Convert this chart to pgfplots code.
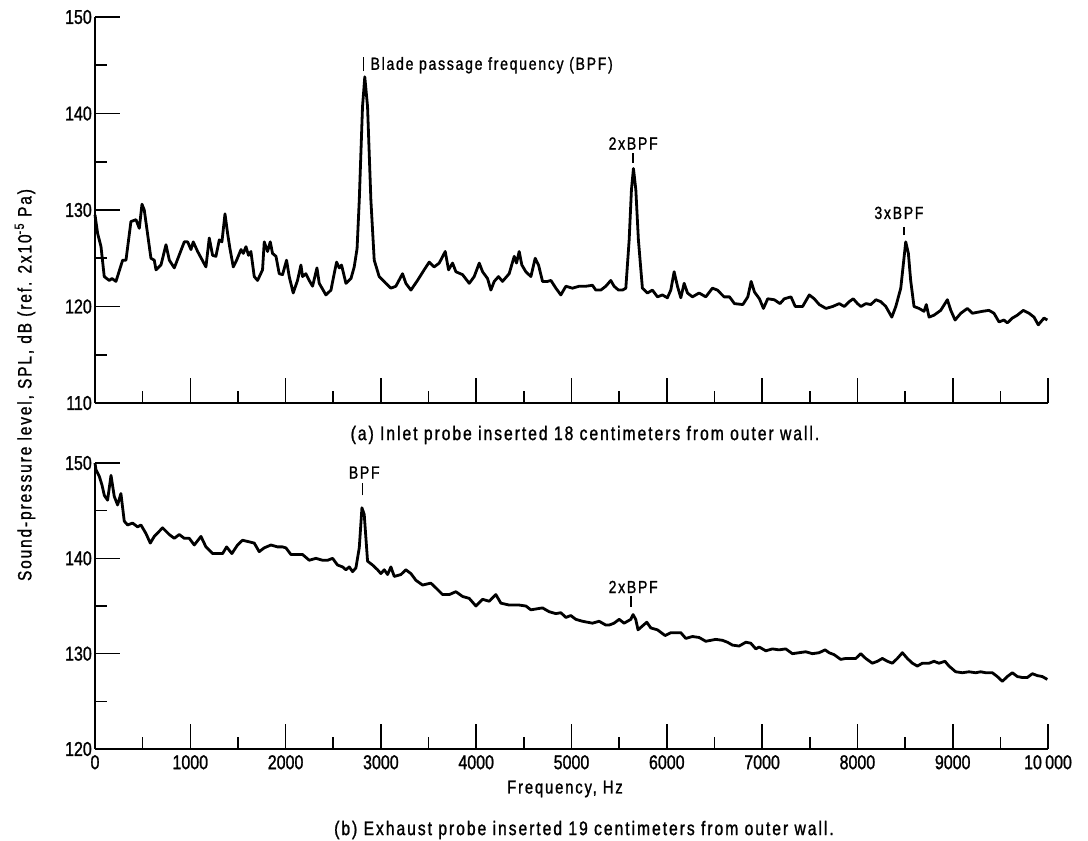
\documentclass[border=0pt]{standalone}
\usepackage{fontspec}
\setmainfont{Liberation Sans}[FakeStretch=0.8,FakeBold=1.2]
\newfontfamily\capfont{Liberation Sans}[FakeStretch=0.8,LetterSpace=10,FakeBold=1.2]
\usepackage{pgfplots}
\pgfplotsset{compat=1.18}

\pgfplotstableread{
f db
0 129.5
27 127.6
63 126.2
97 123.1
150 122.7
178 122.9
220 122.6
290 124.8
325 124.8
377 128.8
430 129.0
465 128.1
493 130.6
517 130.0
587 125.0
622 124.8
640 123.8
692 124.3
745 126.4
780 124.8
832 124.0
937 126.7
972 126.7
1007 125.9
1031 126.7
1077 125.7
1164 124.1
1199 127.1
1234 125.3
1269 125.2
1304 126.9
1332 126.7
1364 129.6
1391 127.6
1416 126.0
1451 124.1
1486 124.8
1532 125.9
1556 125.5
1584 126.2
1611 125.3
1636 125.7
1671 123.1
1706 122.7
1758 123.8
1776 126.7
1811 125.7
1839 126.7
1863 125.5
1899 125.2
1933 123.4
1968 123.3
2010 124.8
2038 123.1
2080 121.4
2125 122.7
2161 124.3
2178 123.1
2213 123.4
2248 122.7
2283 122.1
2329 124.0
2353 122.4
2423 121.2
2476 121.7
2510 123.4
2535 124.6
2563 124.0
2587 124.3
2633 122.4
2686 122.9
2720 124.1
2750 126.0
2773 131.0
2807 140.7
2831 143.8
2860 140.7
2895 131.0
2930 124.8
2982 123.1
3052 122.4
3105 121.9
3157 122.1
3227 123.4
3262 122.4
3315 121.7
3384 122.7
3454 123.8
3507 124.6
3559 124.1
3612 124.5
3675 125.7
3710 123.8
3752 124.5
3787 123.6
3857 123.3
3927 122.4
3979 123.1
4032 124.5
4067 123.6
4119 122.9
4154 121.7
4189 122.6
4234 123.1
4276 122.6
4346 123.4
4399 125.2
4423 124.5
4451 125.7
4479 124.3
4521 123.6
4574 123.1
4619 125.0
4654 124.3
4696 122.6
4748 122.6
4784 122.7
4836 121.9
4888 121.2
4941 122.1
5010 121.9
5080 122.1
5150 122.1
5220 122.2
5255 121.7
5307 121.7
5360 122.1
5412 122.7
5447 122.1
5493 121.7
5535 121.7
5570 121.9
5605 126.9
5629 132.1
5650 134.3
5675 132.1
5702 126.9
5744 121.9
5797 121.4
5849 121.7
5902 121.0
5954 121.2
6006 120.9
6042 121.7
6077 123.6
6112 122.1
6147 120.9
6182 122.4
6217 121.4
6269 121.0
6339 121.4
6409 121.0
6479 121.9
6531 121.7
6601 121.0
6658 121.0
6710 120.3
6798 120.2
6850 121.0
6885 122.6
6920 121.5
6972 120.8
7014 119.8
7059 120.8
7128 120.7
7188 120.3
7233 120.8
7303 121.0
7348 120.0
7425 120.0
7495 121.2
7547 120.8
7600 120.2
7670 119.8
7740 120.0
7810 120.3
7862 120.0
7914 120.5
7956 120.8
8001 120.3
8037 120.0
8089 120.3
8141 120.2
8194 120.7
8246 120.5
8298 120.0
8361 118.9
8403 120.0
8455 121.9
8479 124.1
8507 126.7
8535 125.5
8559 122.7
8594 120.0
8647 119.8
8699 119.5
8723 120.2
8752 118.9
8804 119.1
8874 119.6
8944 120.7
8980 119.6
9025 118.6
9085 119.3
9154 119.8
9207 119.3
9311 119.5
9381 119.6
9433 119.3
9486 118.4
9538 118.6
9573 118.3
9626 118.8
9678 119.1
9741 119.6
9801 119.3
9853 118.9
9898 118.1
9958 118.8
9993 118.6
}\inlet

\pgfplotstableread{
f db
0 150.0
10 149.3
45 148.6
73 147.7
98 146.6
132 146.1
168 148.7
202 146.5
237 145.6
272 146.8
307 143.9
342 143.5
394 143.7
447 143.3
482 143.5
535 142.6
580 141.6
622 142.3
709 143.2
779 142.5
832 142.1
884 142.5
937 142.1
989 142.1
1042 141.4
1112 142.3
1164 141.2
1234 140.5
1339 140.5
1381 141.2
1436 140.5
1496 141.4
1548 141.9
1671 141.6
1723 140.7
1776 141.1
1846 141.4
1916 141.2
1968 141.2
2003 141.1
2056 140.4
2125 140.4
2178 140.4
2248 139.8
2318 140.0
2388 139.8
2441 139.8
2493 140.0
2545 139.3
2598 139.1
2633 138.8
2668 139.1
2703 138.6
2738 139.0
2773 141.1
2801 145.3
2825 144.6
2860 139.7
2912 139.3
2965 138.8
3000 138.4
3035 138.8
3070 138.3
3105 139.1
3140 138.1
3210 138.3
3262 138.8
3315 138.4
3367 137.7
3437 137.2
3524 137.4
3577 136.9
3647 136.2
3717 136.2
3787 136.5
3857 136.0
3927 135.8
3997 135.0
4067 135.7
4137 135.5
4206 136.2
4259 135.3
4346 135.1
4451 135.1
4521 135.0
4574 134.6
4696 134.8
4766 134.4
4836 134.2
4888 134.3
4941 133.8
4993 134.0
5045 133.6
5115 133.4
5167 133.3
5220 133.2
5290 133.4
5360 133.0
5395 133.0
5447 133.2
5500 133.6
5552 133.2
5587 133.4
5622 133.6
5646 134.1
5674 133.6
5698 132.5
5744 132.9
5790 133.3
5832 132.7
5902 132.5
5982 131.9
6042 132.2
6094 132.2
6147 132.2
6199 131.6
6269 131.8
6339 131.7
6409 131.3
6514 131.5
6584 131.4
6636 131.2
6689 130.9
6759 130.8
6829 131.2
6881 131.1
6934 130.5
6969 130.7
7039 130.3
7108 130.5
7178 130.4
7248 130.5
7318 130.0
7388 130.1
7458 130.2
7528 130.0
7598 130.1
7661 130.4
7703 130.1
7755 129.9
7825 129.4
7878 129.5
7930 129.5
7983 129.5
8035 130.0
8087 129.5
8157 129.0
8210 129.2
8262 129.5
8315 129.2
8367 129.0
8419 129.5
8472 130.1
8524 129.5
8577 129.0
8629 128.7
8682 129.0
8752 129.0
8804 129.2
8856 129.0
8919 129.2
8961 128.7
9031 128.1
9101 128.0
9171 128.1
9241 128.0
9294 128.1
9346 128.0
9416 128.0
9468 127.6
9521 127.1
9573 127.6
9626 128.0
9678 127.6
9731 127.5
9783 127.5
9836 127.9
9888 127.7
9940 127.6
9993 127.3
}\exhaust

\pgfplotsset{
  panel/.style={
    scale only axis, width=953pt, xmin=0, xmax=10000,
    enlargelimits=false, scaled x ticks=false, scaled y ticks=false,
    axis lines=left, axis line style={-, line width=1.8pt},
    tick align=inside, major tick length=25pt, minor tick length=12.5pt,
    major tick style={black, line width=1.6pt},
    minor tick style={black, line width=1.6pt},
    xtick={0,1000,...,10000}, minor xtick={500,1500,...,9500},
    tick label style={font=\fontsize{20}{22}\selectfont},
    yticklabel style={inner sep=0pt, xshift=-3pt},
    xticklabel style={inner sep=0pt, yshift=-6pt},
    clip=false,
  },
  curve/.style={black, line width=2.8pt, line join=round, no markers},
}
\newcommand{\annfont}{\capfont\fontsize{17.5}{20}\selectfont}

\begin{document}
\begin{tikzpicture}[x=1pt,y=1pt]
\useasboundingbox (0,0) rectangle (1088,-841);

\begin{axis}[panel, at={(95pt,-17pt)}, anchor=north west, height=386pt,
  ymin=110, ymax=150, ytick={110,120,...,150}, minor ytick={115,125,...,145},
  yticklabels={110,120,130,140,150}, xticklabel=\empty]
\addplot[curve] table[x=f,y=db] {\inlet};
\draw[line width=1.4pt] (axis cs:2815,144.4) -- (axis cs:2815,145.9);
\node[anchor=west, font=\annfont, inner sep=0pt] at (axis cs:2890,145.0) {Blade passage frequency (BPF)};
\node[font=\annfont] at (axis cs:5647,136.9) {2xBPF};
\draw[line width=1.4pt] (axis cs:5647,134.9) -- (axis cs:5647,135.9);
\node[font=\annfont] at (axis cs:8436,129.7) {3xBPF};
\draw[line width=1.4pt] (axis cs:8490,127.4) -- (axis cs:8490,128.2);
\end{axis}

\begin{axis}[panel, at={(95pt,-463pt)}, anchor=north west, height=286pt,
  ymin=120, ymax=150, ytick={120,130,140,150}, minor ytick={125,135,145},
  yticklabels={120,130,140,150},
  xticklabels={0,1000,2000,3000,4000,5000,6000,7000,8000,9000,10\,000}]
\addplot[curve] table[x=f,y=db] {\exhaust};
\node[font=\annfont] at (axis cs:2825,149.0) {BPF};
\draw[line width=1.4pt] (axis cs:2804,146.6) -- (axis cs:2804,147.9);
\node[font=\annfont] at (axis cs:5647,137.0) {2xBPF};
\draw[line width=1.4pt] (axis cs:5625,134.9) -- (axis cs:5625,136.0);
\end{axis}

\node[font=\capfont\fontsize{19.6}{22}\selectfont] at (585,-435) {(a) Inlet probe inserted 18 centimeters from outer wall.};
\node[font=\capfont\fontsize{18.5}{20}\selectfont] at (565,-789) {Frequency, Hz};
\node[font=\capfont\fontsize{19.6}{22}\selectfont] at (584,-830) {(b) Exhaust probe inserted 19 centimeters from outer wall.};
\node[rotate=90, font=\capfont\fontsize{19.2}{22}\selectfont] at (25,-385) {Sound-pressure level, SPL, dB (ref. 2x10\textsuperscript{-5} Pa)};
\end{tikzpicture}
\end{document}
